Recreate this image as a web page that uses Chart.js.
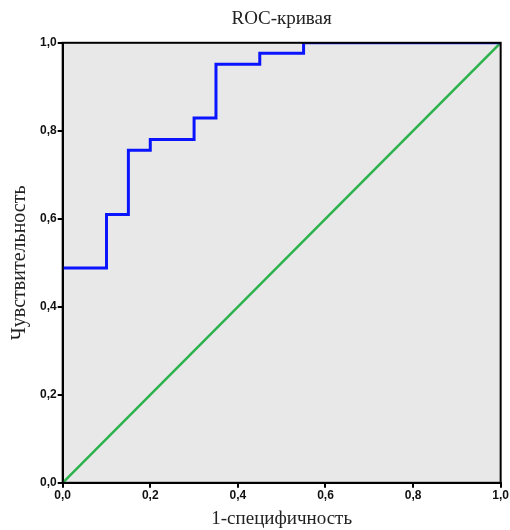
<!DOCTYPE html>
<html>
<head>
<meta charset="utf-8">
<script src="https://cdn.jsdelivr.net/npm/chart.js@4.4.1/dist/chart.umd.min.js"></script>
<style>
  html, body { margin: 0; padding: 0; background: #fff; }
  #wrap { width: 510px; height: 530px; }
</style>
</head>
<body>
<div id="wrap"><canvas id="roc" width="510" height="530"></canvas></div>
<script>
// ROC curve corners (1 - specificity, sensitivity)
const fprPoints = [0, 0.1, 0.15, 0.2, 0.3, 0.35, 0.45, 0.55, 1];
const tprPoints = [0.488, 0.61, 0.756, 0.78, 0.829, 0.951, 0.976, 1, 1];
// reference diagonal
const refX = [0, 1];
const refY = [0, 1];
const tickValues = [0, 0.2, 0.4, 0.6, 0.8, 1];

const BLUE = '#0a14ff';
const GREEN = '#2bb24c';

const fmt = (v) => v.toFixed(1).replace('.', ',');

// gray plot background + black frame
const plotFrame = {
    id: 'plotFrame',
    beforeDraw(chart) {
        const { ctx, chartArea: a } = chart;
        ctx.save();
        ctx.fillStyle = '#e8e8e8';
        ctx.fillRect(a.left, a.top, a.right - a.left, a.bottom - a.top);
        ctx.restore();
    },
    afterDraw(chart) {
        const { ctx, chartArea: a } = chart;
        ctx.save();
        ctx.strokeStyle = '#000';
        ctx.lineWidth = 2;
        ctx.strokeRect(a.left, a.top, a.right - a.left, a.bottom - a.top);
        ctx.restore();
    },
};

const tickFont = { family: '"Liberation Sans", Arial, sans-serif', size: 12, weight: 'bold' };
const serif = '"Liberation Serif", "DejaVu Serif", serif';

const axis = (label, size, pad) => ({
    type: 'linear',
    min: 0,
    max: 1,
    afterBuildTicks: (s) => { s.ticks = tickValues.map((v) => ({ value: v })); },
    ticks: { callback: fmt, color: '#111', font: tickFont, padding: 1, maxRotation: 0 },
    grid: { drawOnChartArea: false, drawTicks: true, tickLength: 5, color: '#000', lineWidth: 2 },
    border: { color: '#000', width: 2 },
    title: { display: true, text: label, color: '#222', font: { family: serif, size }, padding: pad },
});

new Chart(document.getElementById('roc'), {
    type: 'scatter',
    data: {
        datasets: [
            {
                label: 'ROC',
                data: fprPoints.map((x, i) => ({ x, y: tprPoints[i] })),
                showLine: true,
                stepped: 'before',
                borderColor: BLUE,
                borderWidth: 3,
                pointRadius: 0,
                fill: false,
            },
            {
                label: 'Опорная линия',
                data: refX.map((x, i) => ({ x, y: refY[i] })),
                showLine: true,
                borderColor: GREEN,
                borderWidth: 2.5,
                pointRadius: 0,
                fill: false,
            },
        ],
    },
    options: {
        responsive: false,
        animation: false,
        layout: { padding: { top: 8, right: 9, bottom: 0, left: 8 } },
        plugins: {
            legend: { display: false },
            tooltip: { enabled: false },
        },
        scales: {
            x: axis('1-специфичность', 19, { top: 3, bottom: 0 }),
            y: axis('Чувствительность', 20, { top: 0, bottom: 7 }),
            // top axis only carries the chart title, centred over the plot
            xTop: {
                type: 'linear',
                position: 'top',
                min: 0,
                max: 1,
                ticks: { display: false },
                grid: { display: false },
                border: { display: false },
                title: {
                    display: true,
                    text: 'ROC-кривая',
                    color: '#222',
                    font: { family: serif, size: 19 },
                    padding: { top: 0, bottom: 4 },
                },
            },
        },
    },
    plugins: [plotFrame],
});
</script>
</body>
</html>
